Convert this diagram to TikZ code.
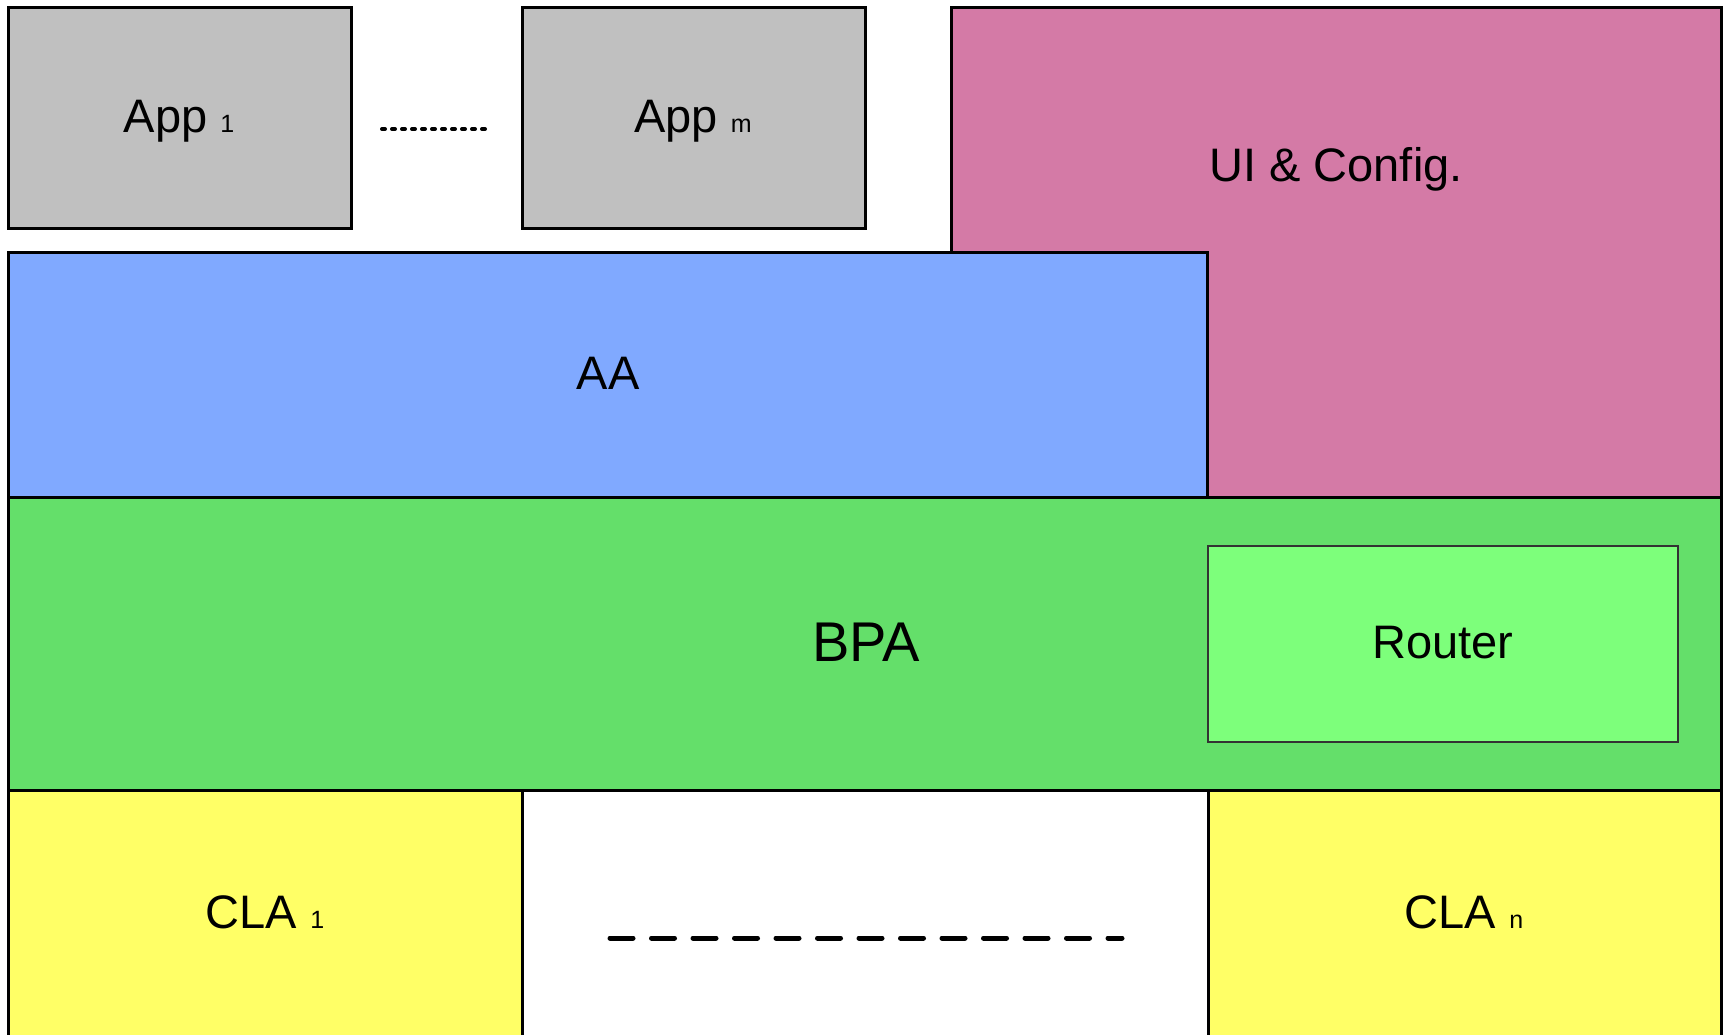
\documentclass[tikz,border=0pt]{standalone}
\usepackage{fontspec}
\setmainfont{Liberation Sans}
\definecolor{appgray}{HTML}{C0C0C0}
\definecolor{uipink}{HTML}{D47AA6}
\definecolor{aablue}{HTML}{80A9FF}
\definecolor{bpagreen}{HTML}{64DF6A}
\definecolor{routergreen}{HTML}{7DFF7B}
\definecolor{clayellow}{HTML}{FFFF66}
\begin{document}
\begin{tikzpicture}[x=1pt,y=-1pt,
  layer/.style={draw=black, line width=3pt, rectangle, inner sep=0pt, outer sep=0pt, anchor=north west},
  lbl/.style={font=\fontsize{47}{52}\selectfont, inner sep=0pt, anchor=base},
  biglbl/.style={font=\fontsize{56}{60}\selectfont, inner sep=0pt, anchor=base},
  dotsline/.style={line width=4pt, line cap=round, dash pattern=on 3pt off 7pt},
  dashline/.style={line width=5pt, line cap=round, dash pattern=on 23pt off 18.5pt}]
\newcommand{\subtxt}[1]{{\fontsize{25}{27}\selectfont #1}}
\clip (0,0) rectangle (1728,1034);
\fill[white] (0,0) rectangle (1728,1034);

% top row
\node[layer, fill=appgray, minimum width=343.5pt, minimum height=221pt] (app1) at (8,7) {};
\node[layer, fill=appgray, minimum width=343pt, minimum height=221pt] (appm) at (522,7) {};
\node[layer, fill=uipink, minimum width=770pt, minimum height=490pt] (ui) at (951,7) {};

% AA
\node[layer, fill=aablue, minimum width=1199pt, minimum height=245pt] (aa) at (8,252) {};

% BPA
\node[layer, fill=bpagreen, minimum width=1713pt, minimum height=293pt] (bpa) at (8,497) {};
\node[layer, fill=routergreen, draw=black!80, line width=1.5pt, minimum width=470pt, minimum height=196pt] (router) at (1208,546) {};

% CLAs
\node[layer, fill=clayellow, minimum width=514pt, minimum height=260pt] (cla1) at (8,790) {};
\node[layer, fill=clayellow, minimum width=513pt, minimum height=260pt] (clan) at (1208,790) {};

% labels
\node[lbl] (app1lbl) at (179,132) {App \subtxt{1}};
\node[lbl] (appmlbl) at (693,132) {App \subtxt{m}};
\node[lbl] (uilbl) at (1336,181) {UI \& Config.};
\node[lbl] (aalbl) at (608,389) {AA};
\node[biglbl] (bpalbl) at (866,661) {BPA};
\node[lbl] (routerlbl) at (1443,658) {Router};
\node[lbl] (cla1lbl) at (265,928) {CLA \subtxt{1}};
\node[lbl] (clanlbl) at (1464,928) {CLA \subtxt{n}};

% ellipses
\coordinate (dotsA) at (382,129);
\coordinate (dotsB) at (488,129);
\draw[dotsline] (dotsA) -- (dotsB);
\coordinate (dashA) at (610,938);
\coordinate (dashB) at (1122,938);
\draw[dashline] (dashA) -- (dashB);
\end{tikzpicture}
\end{document}
